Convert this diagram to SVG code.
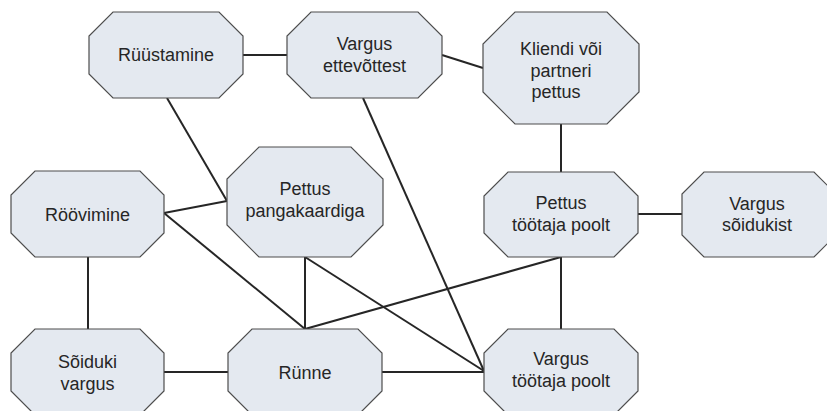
<svg xmlns="http://www.w3.org/2000/svg" width="827" height="411" viewBox="0 0 827 411">
<style>
.n{fill:#e4e9f0;stroke:#4d4d4d;stroke-width:1.2}
.t{font-family:"Liberation Sans",Arial,sans-serif;font-size:18px;fill:#262626;text-anchor:middle}
.c line{stroke:#262626;stroke-width:2;fill:none}
</style>
<rect width="827" height="411" fill="#fff"/>
<g class="c" id="connectors">
<line x1="243" y1="55" x2="287" y2="55"/>
<line x1="442" y1="55" x2="483" y2="68"/>
<line x1="561" y1="124" x2="561" y2="172"/>
<line x1="638" y1="214" x2="682" y2="214"/>
<line x1="167" y1="98" x2="227" y2="201"/>
<line x1="164" y1="213" x2="227" y2="201"/>
<line x1="164" y1="213" x2="305" y2="329"/>
<line x1="363" y1="98" x2="484" y2="371"/>
<line x1="305" y1="257" x2="305" y2="329"/>
<line x1="305" y1="257" x2="484" y2="371"/>
<line x1="305" y1="329" x2="561" y2="257"/>
<line x1="561" y1="257" x2="561" y2="329"/>
<line x1="88" y1="257" x2="88" y2="329"/>
<line x1="164" y1="372" x2="228" y2="372"/>
<line x1="382" y1="372" x2="484" y2="372"/>
</g>
<g id="ryystamine">
<path class="n" d="M113,12H219L243,36V74L219,98H113L89,74V36Z"/>
<text class="t" x="166" y="61">Rüüstamine</text>
</g>
<g id="vargus-ettevottest">
<path class="n" d="M311,12H418L442,36V74L418,98H311L287,74V36Z"/>
<text class="t" x="364.5" y="49.5">Vargus</text>
<text class="t" x="364.5" y="71.5">ettevõttest</text>
</g>
<g id="kliendi">
<path class="n" d="M515,12H607L639,44V92L607,124H515L483,92V44Z"/>
<text class="t" x="561" y="55">Kliendi või</text>
<text class="t" x="561" y="76.5">partneri</text>
<text class="t" x="556" y="98">pettus</text>
</g>
<g id="roovimine">
<path class="n" d="M35,171H140L164,195V233L140,257H35L11,233V195Z"/>
<text class="t" x="87.5" y="220.5">Röövimine</text>
</g>
<g id="pettus-pangakaardiga">
<path class="n" d="M259,147H351L383,179V225L351,257H259L227,225V179Z"/>
<text class="t" x="305" y="195">Pettus</text>
<text class="t" x="305" y="216.5">pangakaardiga</text>
</g>
<g id="pettus-tootaja">
<path class="n" d="M508,172H614L638,196V233L614,257H508L484,233V196Z"/>
<text class="t" x="561" y="209">Pettus</text>
<text class="t" x="561" y="230.5">töötaja poolt</text>
</g>
<g id="vargus-soidukist">
<path class="n" d="M704,172H814L836,194V235L814,257H704L682,235V194Z"/>
<text class="t" x="757" y="210">Vargus</text>
<text class="t" x="757" y="231">sõidukist</text>
</g>
<g id="soiduki-vargus">
<path class="n" d="M35,329H140L164,353V391L140,415H35L11,391V353Z"/>
<text class="t" x="87.5" y="368">Sõiduki</text>
<text class="t" x="87.5" y="390">vargus</text>
</g>
<g id="runne">
<path class="n" d="M252,329H358L382,353V391L358,415H252L228,391V353Z"/>
<text class="t" x="305" y="379">Rünne</text>
</g>
<g id="vargus-tootaja">
<path class="n" d="M508,329H614L638,353V391L614,415H508L484,391V353Z"/>
<text class="t" x="561" y="365">Vargus</text>
<text class="t" x="561" y="387">töötaja poolt</text>
</g>
</svg>
